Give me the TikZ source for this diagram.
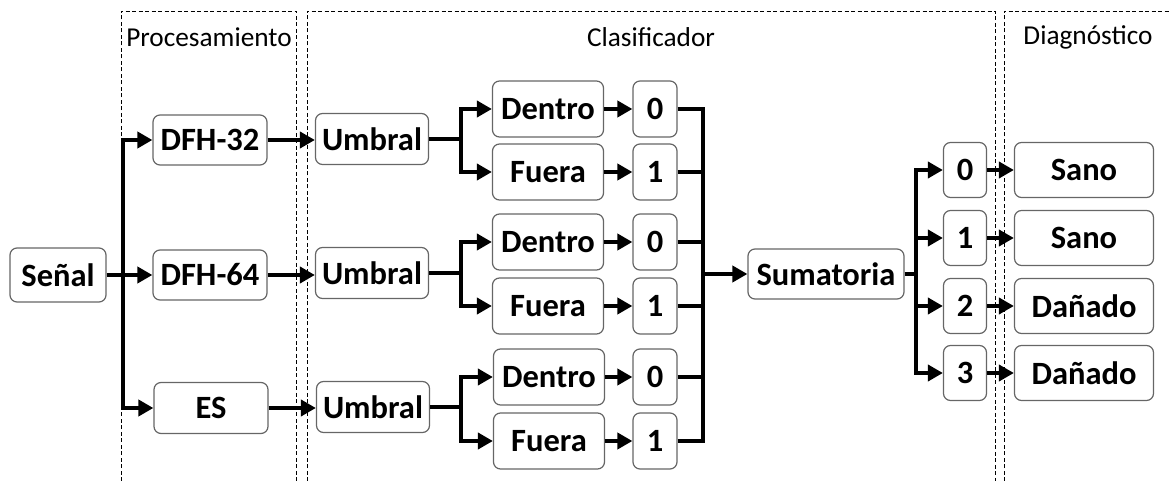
\documentclass[tikz,border=0pt]{standalone}
\usepackage{fontspec}
\setmainfont{Carlito}
\usetikzlibrary{arrows.meta}
\begin{document}
\begin{tikzpicture}[x=1pt,y=-1pt,
 box/.style={draw=black!60, line width=1.2pt, rounded corners=7pt, font=\fontsize{32.5}{38}\selectfont\bfseries, inner sep=0pt, align=center},
 con/.style={line width=4pt, -{Triangle[length=15pt,width=16pt]}},
 ln/.style={line width=4pt},
 bus/.style={line width=4pt, line cap=rect},
 frame/.style={line width=0.9pt, dash pattern=on 4pt off 2.5pt},
 ttl/.style={font=\fontsize{27.3}{32}\selectfont}]
\useasboundingbox (0,0) rectangle (1171,481);
% frames
\draw[frame] (121,481) -- (121,11) -- (296,11) -- (296,481);
\draw[frame] (307,481) -- (307,11) -- (995,11) -- (995,481);
\draw[frame] (1004,481) -- (1004,11) -- (1171,11);
\node[ttl] (tp) at (209,37) {Procesamiento};
\node[ttl] (tc) at (651,37) {Clasificador};
\node[ttl] (td) at (1088,37) {Diagnóstico};
% nodes
\node[box, minimum width=96pt, minimum height=54pt] (sen) at (58,275) {Señal};
\node[box, minimum width=114pt, minimum height=50pt] (p1) at (210,140) {DFH-32};
\node[box, minimum width=114pt, minimum height=50pt] (p2) at (210,275) {DFH-64};
\node[box, minimum width=114pt, minimum height=51pt] (p3) at (211,408) {ES};
\node[box, minimum width=113pt, minimum height=51pt] (u1) at (372,139) {Umbral};
\node[box, minimum width=113pt, minimum height=51pt] (u2) at (372,273) {Umbral};
\node[box, minimum width=113pt, minimum height=51pt] (u3) at (373,407) {Umbral};
\node[box, minimum width=111pt, minimum height=56pt] (d1) at (548,109) {Dentro};
\node[box, minimum width=111pt, minimum height=56pt] (f1) at (548,172) {Fuera};
\node[box, minimum width=111pt, minimum height=56pt] (d2) at (548,242) {Dentro};
\node[box, minimum width=111pt, minimum height=56pt] (f2) at (548,306) {Fuera};
\node[box, minimum width=111pt, minimum height=56pt] (d3) at (549,377) {Dentro};
\node[box, minimum width=111pt, minimum height=56pt] (f3) at (549,441) {Fuera};
\node[box, minimum width=44pt, minimum height=56pt] (z1) at (655,109) {0};
\node[box, minimum width=44pt, minimum height=56pt] (o1) at (655,172) {1};
\node[box, minimum width=44pt, minimum height=56pt] (z2) at (655,242) {0};
\node[box, minimum width=44pt, minimum height=56pt] (o2) at (655,306) {1};
\node[box, minimum width=44pt, minimum height=56pt] (z3) at (655,377) {0};
\node[box, minimum width=44pt, minimum height=56pt] (o3) at (655,441) {1};
\node[box, minimum width=156pt, minimum height=50pt] (sum) at (826,274) {Sumatoria};
\node[box, minimum width=43pt, minimum height=55pt] (n0) at (965,170) {0};
\node[box, minimum width=43pt, minimum height=55pt] (n1) at (965,238) {1};
\node[box, minimum width=43pt, minimum height=55pt] (n2) at (965,306) {2};
\node[box, minimum width=43pt, minimum height=55pt] (n3) at (965,373) {3};
\node[box, minimum width=139pt, minimum height=55pt] (r0) at (1084,170) {Sano};
\node[box, minimum width=139pt, minimum height=55pt] (r1) at (1084,238) {Sano};
\node[box, minimum width=139pt, minimum height=55pt] (r2) at (1084,306) {Dañado};
\node[box, minimum width=139pt, minimum height=55pt] (r3) at (1084,373) {Dañado};
% bus coordinates
\coordinate (bA) at (123,0);
\coordinate (bU) at (461,0);
\coordinate (bC) at (703,0);
\coordinate (bS) at (916,0);
% Senal to processing
\draw[bus] (p1.west -| bA) -- (p3.west -| bA);
\draw[con] (sen.east) -- (sen.east -| p2.west);
\draw[con] (p1.west -| bA) -- (p1.west);
\draw[con] (p3.west -| bA) -- (p3.west);
% processing to umbral
\draw[con] (p1.east) -- (p1.east -| u1.west);
\draw[con] (p2.east) -- (p2.east -| u2.west);
\draw[con] (p3.east) -- (p3.east -| u3.west);
% umbral to dentro/fuera
\foreach \u/\d/\f in {u1/d1/f1,u2/d2/f2,u3/d3/f3}{
  \draw[ln] (\u.east) -- (\u.east -| bU);
  \draw[bus] (\d.west -| bU) -- (\f.west -| bU);
  \draw[con] (\d.west -| bU) -- (\d.west);
  \draw[con] (\f.west -| bU) -- (\f.west);
}
% dentro/fuera to values
\foreach \a/\b in {d1/z1,f1/o1,d2/z2,f2/o2,d3/z3,f3/o3}{
  \draw[con] (\a.east) -- (\b.west);
}
% values to bus
\draw[bus] (z1.east -| bC) -- (o3.east -| bC);
\foreach \a in {z1,o1,z2,o2,z3,o3}{
  \draw[ln] (\a.east) -- (\a.east -| bC);
}
\draw[con] (sum.west -| bC) -- (sum.west);
% sumatoria to results
\draw[ln] (sum.east) -- (sum.east -| bS);
\draw[bus] (n0.west -| bS) -- (n3.west -| bS);
\foreach \a/\b in {n0/r0,n1/r1,n2/r2,n3/r3}{
  \draw[con] (\a.west -| bS) -- (\a.west);
  \draw[con] (\a.east) -- (\b.west);
}
\end{tikzpicture}
\end{document}
